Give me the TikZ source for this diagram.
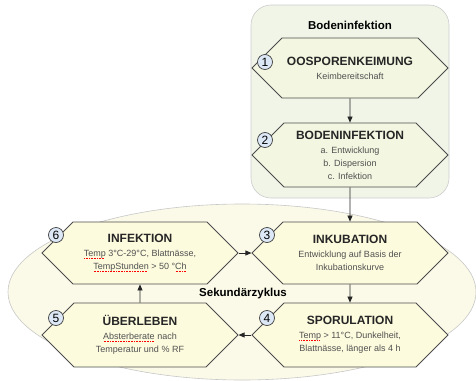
\documentclass[tikz,border=0pt]{standalone}
\usepackage{fontspec}
\setmainfont{Liberation Sans}
\usetikzlibrary{shapes.symbols,arrows.meta}
\definecolor{hexfill}{RGB}{253,251,222}
\definecolor{hexgreen}{RGB}{243,246,224}
\definecolor{bodenfill}{RGB}{240,245,232}
\definecolor{ellfill}{RGB}{251,250,232}
\definecolor{numfill}{RGB}{221,232,246}
\definecolor{subgray}{RGB}{80,80,80}
\newsavebox{\spellbox}
\newcommand{\spell}[1]{\sbox{\spellbox}{#1}\rlap{\hbox to \wd\spellbox{\color{red}\leaders\hbox to 1.6pt{\hss\rule[-2.2pt]{0.9pt}{0.6pt}\hss}\hfill}}\usebox{\spellbox}}
\newcommand{\hextitel}[1]{{\fontsize{12}{13}\selectfont\bfseries\color{black!85}#1}\\[1pt]}

\begin{document}
\begin{tikzpicture}[x=1pt,y=-1pt,
		hexa/.style={signal, signal to=west and east, signal pointer angle=90, draw=black!70, line width=0.8pt, fill=hexfill, minimum width=196pt, minimum height=62pt, inner sep=0pt, align=center, text=subgray, font=\fontsize{9}{13}\selectfont},
		nummer/.style={circle, draw=black!75, line width=0.7pt, fill=numfill, minimum size=15pt, inner sep=0pt, font=\fontsize{12}{12}\selectfont},
		arr/.style={-{Triangle[length=6pt,width=5pt]}, line width=0.7pt, black!85}]
			\useasboundingbox (0,0) rectangle (476,380);
			% Sekundaerzyklus
			\filldraw[draw=black!22, fill=ellfill, line width=0.6pt] (242,292) ellipse [x radius=234pt, y radius=88pt];
			\node[font=\fontsize{11.5}{13}\selectfont\bfseries] (sekund) at (243,294) {Sekundärzyklus};
			% Bodeninfektion
			\node[draw=black!20, fill=bodenfill, rounded corners=20pt, line width=0.6pt, minimum width=198pt, minimum height=193pt] (boden) at (350,101.5) {};
			\node[font=\fontsize{11.5}{13}\selectfont\bfseries] (bodentitel) at (350,25) {Bodeninfektion};
			\node[hexa, fill=hexgreen, minimum height=60pt] (h1) at (350,68) {\hextitel{OOSPORENKEIMUNG}Keimbereitschaft};
			\node[hexa, fill=hexgreen, minimum height=64pt] (h2) at (350,155) {\hextitel{BODENINFEKTION}a. Entwicklung\\b. Dispersion\\c. Infektion};
			% Zyklus
			\node[hexa] (h3) at (350,253) {\hextitel{INKUBATION}Entwicklung auf Basis der\\Inkubationskurve};
			\node[hexa, minimum height=64pt] (h4) at (350,335) {\hextitel{SPORULATION}\spell{Temp} > 11°C, Dunkelheit,\\Blattnässe, länger als 4 h};
			\node[hexa, minimum height=64pt] (h5) at (140,335) {\hextitel{ÜBERLEBEN}\spell{Absterberate} nach\\Temperatur und \% RF};
			\node[hexa] (h6) at (140,253) {\hextitel{INFEKTION}\spell{Temp} 3°C-29°C, Blattnässe,\\\spell{TempStunden} > 50 °\spell{Ch}};
			% Nummern
			\node[nummer] (n1) at (265,62) {1};
			\node[nummer] (n2) at (265,140) {2};
			\node[nummer] (n3) at (267,235) {3};
			\node[nummer] (n4) at (267,318) {4};
			\node[nummer] (n5) at (56,318) {5};
			\node[nummer] (n6) at (56,235) {6};
			% Pfeile
			\draw[arr] (h1) -- (h2);
			\draw[arr] (h2) -- (h3);
			\draw[arr] (h3) -- (h4);
			\draw[arr] (h4.west) -- (h5.east);
			\draw[arr] (h5) -- (h6);
			\draw[arr] (h6.east) -- (h3.west);
		\end{tikzpicture}
\end{document}
